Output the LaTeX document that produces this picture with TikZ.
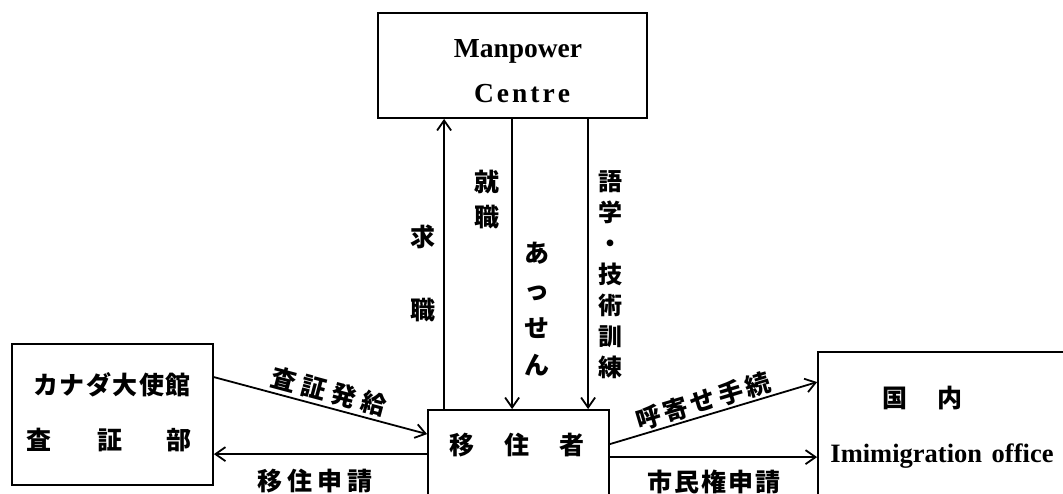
\documentclass[tikz,border=0pt]{standalone}
\usepackage{fontspec}
\setmainfont{Liberation Serif}
\newfontfamily\cjk{Noto Sans CJK JP}
\usetikzlibrary{arrows.meta,calc}
\begin{document}
\begin{tikzpicture}[x=1pt,y=-1pt,
  box/.style={draw,line width=1.8pt,inner sep=0pt,rectangle},
  conn/.style={line width=1.8pt,-{Straight Barb[length=10pt,width=14pt]}},
  jp/.style={font=\cjk\bfseries\fontsize{25}{25}\selectfont,inner sep=0pt},
  lat/.style={font=\bfseries\fontsize{27.5}{27.5}\selectfont,inner sep=0pt,anchor=base}]
\useasboundingbox (0,0) rectangle (1063,493);
% boxes
\node[box,minimum width=269pt,minimum height=105pt] (mpc) at (512.5,65.5) {};
\node[box,minimum width=201pt,minimum height=141pt] (emb) at (112.5,414.5) {};
\node[box,minimum width=181pt,minimum height=110pt] (mig) at (518.5,465) {};
\node[box,minimum width=257pt,minimum height=168pt] (imm) at (946.5,436) {};
% box texts
\node[lat] (mpct1) at (518,57) {Manpower};
\node[lat] (mpct2) at (522,102) {C\hspace{3pt}e\hspace{3pt}n\hspace{3pt}t\hspace{3pt}r\hspace{3pt}e};
\node[jp] (embt1) at (112,385) {カ\hspace{1.5pt}ナ\hspace{1.5pt}ダ\hspace{1.5pt}大\hspace{1.5pt}使\hspace{1.5pt}館};
\node[jp] (embt2) at (109,440) {査\hspace{46pt}証\hspace{45pt}部};
\node[jp] (migt) at (517,445) {移\hspace{30pt}住\hspace{30pt}者};
\node[jp] (immt1) at (922.5,398) {国\hspace{30pt}内};
\node[lat,font=\bfseries\fontsize{26.5}{26.5}\selectfont] (immt2) at (942,462) {Imimigration\hspace{3pt} office};
% vertical connectors
\draw[conn] ([xshift=17pt]mig.north west) -- ([xshift=67pt]mpc.south west);
\draw[conn] ([xshift=135pt]mpc.south west) -- ([xshift=85pt]mig.north west);
\draw[conn] ([xshift=211pt]mpc.south west) -- ([xshift=161pt]mig.north west);
% vertical labels
\node[jp,align=center,font=\cjk\bfseries\fontsize{25}{73}\selectfont] (l1) at (423,273.5) {求\\職};
\node[jp,align=center,font=\cjk\bfseries\fontsize{25}{35}\selectfont] (l2) at (487,199.5) {就\\職};
\node[jp,align=center,font=\cjk\bfseries\fontsize{25}{37.3}\selectfont] (l3) at (537,309) {あ\\っ\\せ\\ん};
\node[jp,align=center,font=\cjk\bfseries\fontsize{24}{31}\selectfont] (l4) at (610,275) {語\\学\\・\\技\\術\\訓\\練};
% horizontal / sloped connectors
\draw[conn] ([yshift=-34pt]emb.north east) -- node[jp,sloped,pos=0.52,above=2.7pt] (l5) {査\hspace{6pt}証\hspace{6pt}発\hspace{6pt}給} ([yshift=-25pt]mig.north west);
\draw[conn] ([yshift=-45pt]mig.north west) -- node[jp,pos=0.526,below=14.5pt] (l6) {移\hspace{5pt}住\hspace{5pt}申\hspace{5pt}請} ([yshift=-111pt]emb.north east);
\draw[conn] ([yshift=-35pt]mig.north east) -- node[jp,sloped,pos=0.47,above=1.5pt] (l7) {呼\hspace{3.5pt}寄\hspace{3.5pt}せ\hspace{3.5pt}手\hspace{3.5pt}続} ([yshift=-31pt]imm.north west);
\draw[conn] ([yshift=-48pt]mig.north east) -- node[jp,pos=0.5,below=11.5pt] (l8) {市\hspace{2pt}民\hspace{2pt}権\hspace{2pt}申\hspace{2pt}請} ([yshift=-106pt]imm.north west);
\end{tikzpicture}
\end{document}
